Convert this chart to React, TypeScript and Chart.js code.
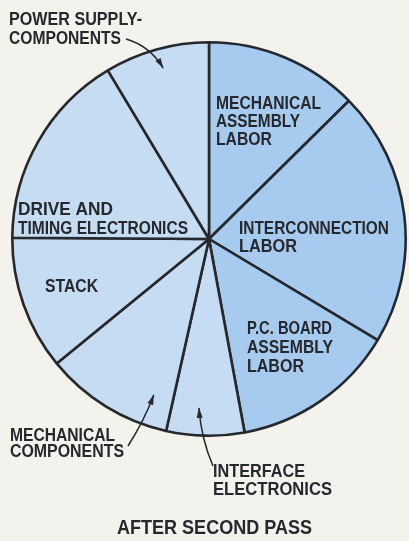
import React, { useEffect, useRef } from "react";
import { Chart, registerables } from "chart.js";

Chart.register(...registerables);

const categories = [
  "Mechanical Assembly Labor",
  "Interconnection Labor",
  "P.C. Board Assembly Labor",
  "Interface Electronics",
  "Mechanical Components",
  "Stack",
  "Drive and Timing Electronics",
  "Power Supply Components",
];
const shares = [12.6, 21.0, 13.5, 6.4, 10.6, 11.0, 16.3, 8.6];
const isLabor = [true, true, true, false, false, false, false, false];

const title = "AFTER SECOND PASS";

// text annotations: lines, left x, first baseline, line height, target widths
const textLabels = [
  { lines: ["POWER SUPPLY-", "COMPONENTS"], x: 9, y: 25, lh: 19, w: [133, 112] },
  { lines: ["MECHANICAL", "ASSEMBLY", "LABOR"], x: 216, y: 109, lh: 18, w: [105, 84, 56] },
  { lines: ["INTERCONNECTION", "LABOR"], x: 239, y: 234, lh: 18, w: [150, 58] },
  { lines: ["DRIVE AND", "TIMING ELECTRONICS"], x: 18, y: 215, lh: 19, w: [95, 170] },
  { lines: ["STACK"], x: 45, y: 292, lh: 18, w: [53] },
  { lines: ["P.C. BOARD", "ASSEMBLY", "LABOR"], x: 247, y: 334, lh: 19, w: [85, 86, 57] },
  { lines: ["MECHANICAL", "COMPONENTS"], x: 10, y: 441, lh: 16, w: [105, 114] },
  { lines: ["INTERFACE", "ELECTRONICS"], x: 213, y: 477, lh: 18, w: [92, 119] },
];

// arrows: slice index, tip angle (deg clockwise from top), tip radius fraction, tail and control point
const arrows = [
  { slice: 7, angle: 345, rf: 0.9, tail: [126, 39], ctrl: [150, 46] },
  { slice: 4, angle: 199.5, rf: 0.84, tail: [128, 446], ctrl: [144, 421] },
  { slice: 3, angle: 183.4, rf: 0.86, tail: [213, 466], ctrl: [201, 438] },
];

const INK = "#25282c";
const FONT = '"Liberation Sans", Arial, sans-serif';

function fitText(ctx: CanvasRenderingContext2D, text: string, x: number, y: number, w: number) {
  const natural = ctx.measureText(text).width;
  const s = w / natural;
  ctx.save();
  ctx.translate(x, y);
  ctx.scale(s, 1);
  ctx.fillText(text, 0, 0);
  ctx.restore();
}

const annotationPlugin = {
  id: "annotations",
  afterDraw(chart: any) {
    const ctx: CanvasRenderingContext2D = chart.ctx;
    const meta = chart.getDatasetMeta(0);
    const arc0 = meta.data[0];
    const cx = arc0.x;
    const cy = arc0.y;
    const R = arc0.outerRadius;
    ctx.save();
    ctx.fillStyle = INK;
    ctx.textBaseline = "alphabetic";
    ctx.textAlign = "left";
    ctx.font = `bold 18px ${FONT}`;
    textLabels.forEach((l) => {
      l.lines.forEach((line, i) => fitText(ctx, line, l.x, l.y + i * l.lh, l.w[i]));
    });
    ctx.font = `bold 21px ${FONT}`;
    fitText(ctx, title, 117, 534, 195);

    ctx.strokeStyle = INK;
    ctx.lineWidth = 1.5;
    arrows.forEach((a) => {
      const ang = (a.angle * Math.PI) / 180;
      const tx = cx + Math.sin(ang) * R * a.rf;
      const ty = cy - Math.cos(ang) * R * a.rf;
      ctx.beginPath();
      ctx.moveTo(a.tail[0], a.tail[1]);
      ctx.quadraticCurveTo(a.ctrl[0], a.ctrl[1], tx, ty);
      ctx.stroke();
      const dir = Math.atan2(ty - a.ctrl[1], tx - a.ctrl[0]);
      const len = 10;
      const half = 3;
      const bx = tx - Math.cos(dir) * len;
      const by = ty - Math.sin(dir) * len;
      ctx.beginPath();
      ctx.moveTo(tx, ty);
      ctx.lineTo(bx + Math.sin(dir) * half, by - Math.cos(dir) * half);
      ctx.lineTo(bx - Math.sin(dir) * half, by + Math.cos(dir) * half);
      ctx.closePath();
      ctx.fill();
    });
    ctx.restore();
  },
};

const bgPlugin = {
  id: "bg",
  beforeDraw(chart: any) {
    const ctx = chart.ctx;
    ctx.save();
    ctx.fillStyle = "#f3f2ed";
    ctx.fillRect(0, 0, chart.width, chart.height);
    ctx.restore();
  },
};

export default function App() {
  const ref = useRef<HTMLCanvasElement>(null);
  useEffect(() => {
    document.body.style.margin = "0";
    document.body.style.background = "#f3f2ed";
    const chart = new Chart(ref.current!, {
      type: "pie",
      data: {
        labels: categories,
        datasets: [
          {
            data: shares,
            backgroundColor: isLabor.map((l) => (l ? "#a7cbef" : "#c6dcf3")),
            borderColor: INK,
            borderWidth: 2.6,
          },
        ],
      },
      options: {
        animation: false,
        responsive: false,
        maintainAspectRatio: false,
        layout: { padding: { left: 11, right: 2, top: 41, bottom: 104 } },
        plugins: { legend: { display: false }, tooltip: { enabled: false } },
      },
      plugins: [bgPlugin, annotationPlugin],
    });
    return () => chart.destroy();
  }, []);
  return (
    <div style={{ width: 409, height: 541 }}>
      <canvas ref={ref} width={409} height={541} style={{ display: "block" }} />
    </div>
  );
}
